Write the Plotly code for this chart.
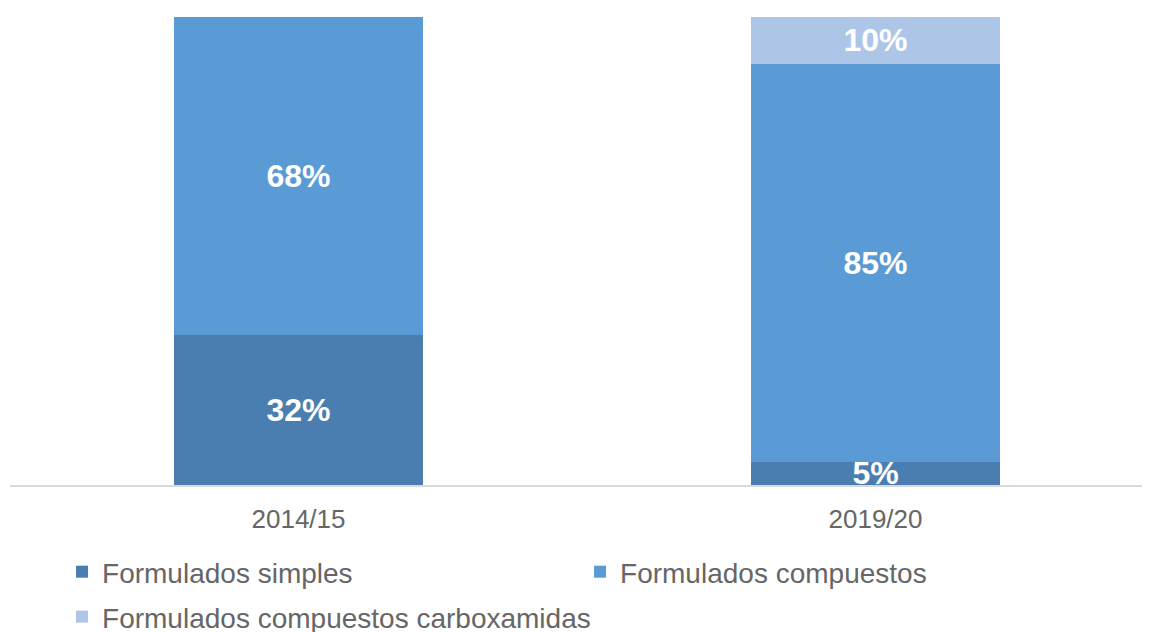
import plotly.graph_objects as go

categories = ["2014/15", "2019/20"]
simples = [32, 5]
compuestos = [68, 85]
carboxamidas = [None, 10]

series = [
    ("Formulados simples", simples, "#4A7EB0", "legend"),
    ("Formulados compuestos", compuestos, "#5B9BD5", "legend"),
    ("Formulados compuestos carboxamidas", carboxamidas, "#ADC5E6", "legend2"),
]

fig = go.Figure()
for name, vals, color, lg in series:
    fig.add_trace(go.Bar(
        x=categories, y=vals, name=name,
        marker=dict(color=color, line=dict(width=0)),
        text=[f"{v}%" if v is not None else "" for v in vals],
        textposition="inside", insidetextanchor="middle",
        textfont=dict(family="Liberation Sans, Arial, sans-serif", size=32, color="white", weight="bold"),
        width=0.4315, legend=lg,
    ))

fig.update_layout(
    barmode="stack",
    width=1150, height=632,
    margin=dict(l=2, r=0, t=9, b=155, autoexpand=False),
    plot_bgcolor="white", paper_bgcolor="white",
    uniformtext=dict(minsize=32, mode="show"),
    font=dict(family="Liberation Sans, Arial, sans-serif", color="#666666"),
    xaxis=dict(range=[-0.5, 1.4896], showline=True, linecolor="#D9D9D9", linewidth=2,
               tickfont=dict(size=26, color="#666666"), ticks="", showgrid=False,
               ticklabelstandoff=10, automargin=False),
    yaxis=dict(range=[0, 100], visible=False, showgrid=False, automargin=False),
    showlegend=True,
    legend=dict(orientation="h", xref="container", yref="container",
                x=0.047, xanchor="left", y=0.1076, yanchor="middle",
                font=dict(size=28, color="#666666"), entrywidth=473, traceorder="normal"),
    legend2=dict(orientation="h", xref="container", yref="container",
                 x=0.047, xanchor="left", y=0.0365, yanchor="middle",
                 font=dict(size=28, color="#666666")),
)

fig.write_html("out.html")
